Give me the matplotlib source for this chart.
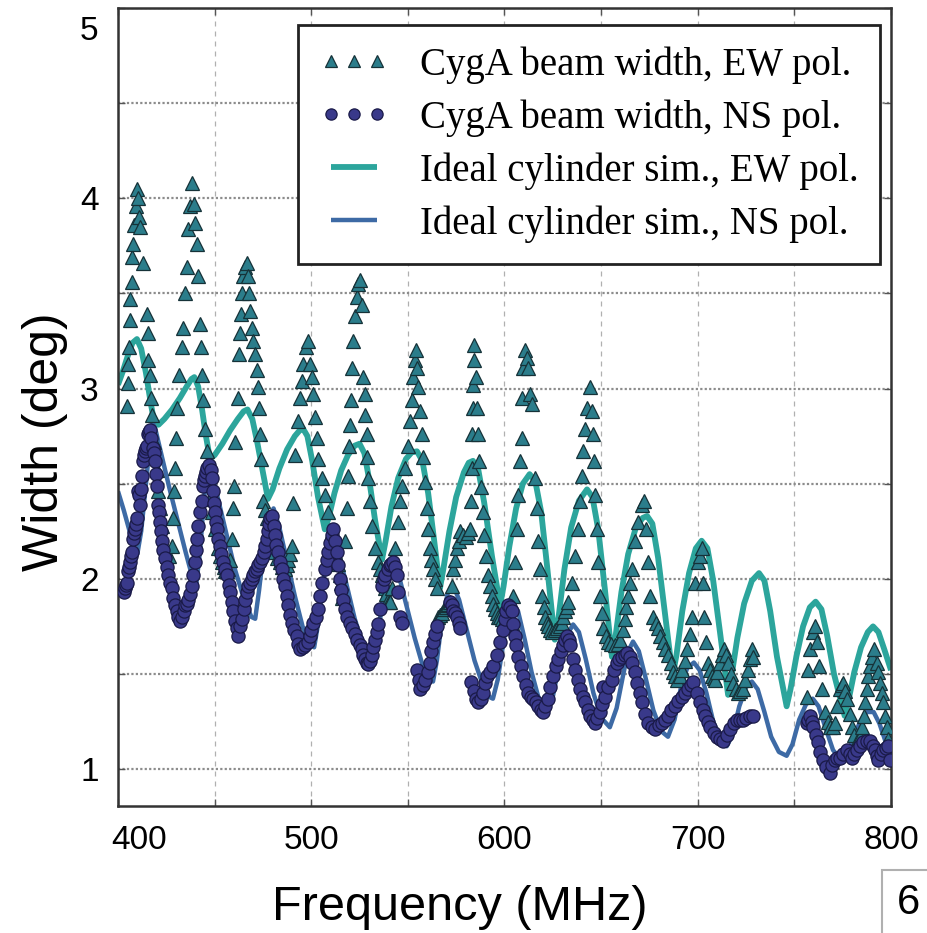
import numpy as np
import matplotlib
matplotlib.use("Agg")
import matplotlib.pyplot as plt
import matplotlib.transforms as mtransforms
from matplotlib.patches import Rectangle

plt.rcParams['font.family'] = ['Liberation Sans', 'DejaVu Sans']

# --- measured beam width, EW pol. (MHz, deg) ---
ew_points = [
    (404.7, 2.91), (405.2, 3.03), (405.4, 3.13), (405.6, 3.22), (406.2, 3.36), (406.4, 3.47),
    (407.2, 3.56), (407.4, 3.69), (407.8, 3.76), (408.3, 3.86), (409.3, 3.96), (409.8, 4.05),
    (410.4, 4.00), (410.9, 3.90), (411.4, 3.85), (412.9, 3.66), (415.0, 3.39), (415.5, 3.29),
    (415.7, 3.15), (416.6, 3.07), (417.1, 2.95), (417.6, 2.86), (418.6, 2.72), (420.2, 2.57),
    (420.7, 2.46), (421.7, 2.37), (422.8, 2.28), (423.8, 2.17), (424.8, 2.13), (425.6, 2.12),
    (426.5, 2.12), (427.9, 2.17), (428.5, 2.32), (429.0, 2.46), (429.5, 2.58), (430.0, 2.74),
    (430.5, 2.90), (431.6, 3.07), (433.1, 3.22), (433.6, 3.32), (434.7, 3.50), (435.7, 3.64),
    (436.2, 3.84), (437.3, 3.96), (438.3, 4.08), (439.3, 3.97), (439.8, 3.87), (440.9, 3.76),
    (441.4, 3.59), (442.4, 3.34), (443.0, 3.22), (443.5, 3.07), (444.0, 2.94), (445.0, 2.79),
    (446.1, 2.67), (447.6, 2.42), (448.6, 2.35), (450.2, 2.26), (451.8, 2.16), (452.8, 2.12),
    (453.8, 2.09), (454.6, 2.06), (455.4, 2.04), (456.2, 2.04), (457.0, 2.05), (458.0, 2.10),
    (459.0, 2.21), (459.5, 2.37), (459.8, 2.49), (460.5, 2.72), (462.1, 2.95), (462.6, 3.18),
    (463.1, 3.29), (463.7, 3.39), (464.2, 3.50), (464.7, 3.59), (465.7, 3.64), (466.5, 3.66),
    (467.3, 3.59), (467.8, 3.50), (468.3, 3.41), (469.3, 3.32), (469.9, 3.25), (470.9, 3.18),
    (471.9, 3.10), (472.5, 3.01), (473.0, 2.90), (473.5, 2.76), (473.8, 2.63), (475.0, 2.41),
    (476.1, 2.36), (477.1, 2.32), (478.7, 2.23), (479.9, 2.19), (481.2, 2.14), (482.5, 2.11),
    (483.8, 2.09), (485.1, 2.06), (486.4, 2.05), (487.2, 2.07), (488.0, 2.10), (489.0, 2.13),
    (490.0, 2.17), (490.8, 2.40), (491.6, 2.65), (493.2, 2.83), (494.2, 2.95), (495.2, 3.04),
    (495.7, 3.13), (497.3, 3.22), (498.3, 3.25), (499.4, 3.13), (500.4, 3.06), (500.9, 2.97),
    (501.9, 2.85), (503.0, 2.74), (503.5, 2.63), (505.6, 2.53), (507.1, 2.44), (508.7, 2.35),
    (510.7, 2.25), (512.3, 2.14), (513.6, 2.08), (514.9, 2.02), (515.5, 1.98), (516.0, 1.90),
    (517.5, 2.20), (518.5, 2.37), (519.0, 2.54), (519.6, 2.70), (520.1, 2.81), (520.6, 2.94),
    (521.1, 3.11), (521.6, 3.25), (522.6, 3.38), (523.7, 3.48), (524.2, 3.55), (525.2, 3.57),
    (526.3, 3.44), (526.8, 3.06), (527.8, 2.97), (528.0, 2.86), (528.9, 2.76), (529.1, 2.64),
    (529.4, 2.53), (530.4, 2.41), (531.4, 2.28), (533.0, 2.16), (534.6, 2.09), (535.6, 2.05),
    (536.6, 2.02), (537.4, 1.98), (538.2, 1.95), (538.9, 1.92), (539.7, 1.89), (540.3, 1.88),
    (541.0, 1.88), (542.0, 1.95), (543.3, 2.16), (544.9, 2.30), (545.9, 2.41), (547.0, 2.49),
    (548.5, 2.58), (550.1, 2.70), (551.1, 2.83), (552.1, 2.94), (552.7, 3.06), (553.7, 3.15),
    (554.2, 3.20), (554.7, 3.11), (555.3, 3.01), (556.3, 2.88), (557.3, 2.76), (557.8, 2.64),
    (558.9, 2.51), (559.9, 2.37), (560.4, 2.26), (561.5, 2.16), (562.2, 2.10), (563.0, 2.05),
    (564.0, 2.00), (565.1, 1.95), (565.6, 1.80), (566.5, 1.81), (567.5, 1.82), (568.7, 1.84),
    (569.5, 1.85), (570.3, 1.86), (571.0, 1.87), (571.8, 1.88), (572.6, 1.96), (573.4, 2.05),
    (574.4, 2.10), (575.4, 2.16), (576.2, 2.20), (577.0, 2.25), (578.5, 2.23), (580.0, 2.22),
    (581.2, 2.24), (582.2, 2.26), (582.7, 2.41), (583.0, 2.58), (583.2, 2.76), (583.5, 2.90),
    (583.8, 3.02), (584.1, 3.15), (584.4, 3.23), (585.3, 3.06), (585.8, 2.90), (586.3, 2.76),
    (586.8, 2.62), (587.9, 2.48), (588.9, 2.35), (589.4, 2.23), (590.4, 2.12), (591.5, 2.02),
    (592.5, 1.96), (593.5, 1.91), (594.3, 1.87), (595.1, 1.84), (595.9, 1.82), (596.7, 1.80),
    (597.7, 1.80), (598.7, 1.79), (599.5, 1.78), (600.3, 1.77), (601.2, 1.77), (602.0, 1.76),
    (602.9, 1.76), (603.9, 1.77), (604.4, 1.91), (605.4, 2.09), (606.5, 2.26), (607.0, 2.44),
    (608.0, 2.62), (609.1, 2.74), (609.3, 2.95), (609.6, 3.11), (610.6, 3.20), (611.7, 3.16),
    (612.2, 3.11), (613.2, 2.97), (614.2, 2.92), (615.8, 2.53), (616.8, 2.37), (617.4, 2.20),
    (618.4, 2.05), (619.4, 1.91), (620.2, 1.85), (621.0, 1.80), (621.8, 1.77), (622.5, 1.75),
    (623.5, 1.73), (624.6, 1.72), (625.9, 1.73), (627.2, 1.74), (628.5, 1.75), (629.8, 1.77),
    (630.5, 1.80), (631.3, 1.83), (632.1, 1.85), (632.9, 1.88), (634.9, 1.98), (636.5, 2.12),
    (638.1, 2.26), (639.1, 2.41), (640.1, 2.54), (640.6, 2.67), (641.7, 2.79), (642.7, 2.90),
    (644.3, 3.01), (645.3, 2.88), (645.8, 2.76), (646.3, 2.62), (646.8, 2.44), (647.9, 2.26),
    (648.4, 2.09), (649.4, 1.91), (650.2, 1.82), (651.0, 1.74), (652.3, 1.70), (653.6, 1.67),
    (655.0, 1.66), (657.2, 1.65), (658.5, 1.66), (659.8, 1.68), (661.1, 1.73), (662.4, 1.79),
    (663.1, 1.85), (663.9, 1.91), (665.0, 1.98), (666.0, 2.05), (667.5, 2.20), (669.1, 2.30),
    (671.2, 2.39), (672.2, 2.41), (673.2, 2.26), (674.3, 2.09), (675.3, 1.91), (676.9, 1.80),
    (678.2, 1.77), (679.5, 1.74), (680.7, 1.70), (682.0, 1.67), (683.3, 1.63), (684.6, 1.60),
    (685.9, 1.56), (687.2, 1.51), (688.2, 1.49), (689.3, 1.47), (690.6, 1.49), (691.9, 1.52),
    (693.2, 1.57), (694.5, 1.63), (695.8, 1.71), (697.1, 1.80), (698.6, 1.98), (700.2, 2.09),
    (701.2, 2.12), (702.2, 2.16), (702.7, 1.98), (703.3, 1.80), (704.3, 1.67), (705.3, 1.56),
    (706.4, 1.52), (707.4, 1.49), (708.2, 1.48), (709.0, 1.47), (710.2, 1.51), (711.5, 1.56),
    (712.5, 1.60), (713.6, 1.63), (714.6, 1.60), (715.7, 1.56), (717.0, 1.50), (718.3, 1.45),
    (719.6, 1.42), (720.9, 1.40), (722.1, 1.41), (723.4, 1.42), (724.7, 1.47), (726.0, 1.52),
    (727.1, 1.58), (728.1, 1.63), (728.6, 1.59),
    (756.6, 1.38), (757.1, 1.52), (758.1, 1.63), (759.7, 1.72), (760.7, 1.75), (761.7, 1.67),
    (762.8, 1.54), (764.3, 1.42), (765.9, 1.30), (767.2, 1.25), (768.5, 1.22), (769.8, 1.22),
    (771.0, 1.24), (772.3, 1.33), (773.6, 1.42), (774.4, 1.44), (775.2, 1.45), (776.3, 1.41),
    (777.3, 1.37), (778.6, 1.29), (779.9, 1.22), (781.1, 1.18), (782.4, 1.15), (783.7, 1.17),
    (785.0, 1.22), (785.8, 1.28), (786.6, 1.35), (787.4, 1.42), (788.1, 1.49), (789.2, 1.54),
    (790.2, 1.59), (791.2, 1.63), (792.8, 1.56), (793.5, 1.51), (794.3, 1.45), (795.1, 1.40),
    (795.9, 1.35), (797.1, 1.28), (797.9, 1.22), (798.7, 1.16), (799.5, 1.10),
]

# --- measured beam width, NS pol. ---
ns_points = [
    (403.0, 1.93), (403.6, 1.95), (404.2, 1.97), (404.7, 1.98), (405.2, 2.04), (405.7, 2.06),
    (406.2, 2.09), (406.7, 2.12), (407.2, 2.14), (407.8, 2.21), (408.3, 2.24), (408.8, 2.26),
    (409.3, 2.29), (409.8, 2.32), (410.4, 2.46), (410.9, 2.44), (411.4, 2.39), (411.9, 2.47),
    (412.4, 2.54), (412.9, 2.62), (413.5, 2.65), (414.0, 2.67), (414.5, 2.69), (415.0, 2.70),
    (415.5, 2.76), (416.0, 2.77), (416.6, 2.78), (417.3, 2.74), (418.1, 2.69), (418.6, 2.66),
    (419.1, 2.62), (419.6, 2.55), (420.2, 2.49), (420.7, 2.39), (421.2, 2.35), (421.7, 2.30),
    (422.2, 2.25), (422.8, 2.20), (423.5, 2.15), (424.3, 2.11), (425.1, 2.06), (425.9, 2.02),
    (426.9, 1.98), (427.9, 1.95), (428.7, 1.90), (429.5, 1.86), (430.3, 1.83), (431.1, 1.80),
    (432.1, 1.78), (433.1, 1.80), (433.9, 1.83), (434.7, 1.86), (435.5, 1.87), (436.2, 1.89),
    (437.2, 1.92), (438.3, 1.96), (439.0, 2.02), (439.8, 2.09), (440.4, 2.15), (440.9, 2.21),
    (441.4, 2.28), (442.4, 2.35), (443.5, 2.41), (444.0, 2.49), (444.5, 2.52), (445.0, 2.54),
    (445.6, 2.56), (446.1, 2.58), (447.1, 2.60), (447.9, 2.57), (448.6, 2.53), (449.2, 2.46),
    (449.7, 2.40), (450.2, 2.35), (450.7, 2.30), (451.2, 2.26), (452.0, 2.21), (452.8, 2.17),
    (453.5, 2.13), (454.3, 2.09), (455.3, 2.05), (456.4, 2.02), (457.2, 1.97), (458.0, 1.93),
    (458.8, 1.88), (459.5, 1.83), (460.5, 1.78), (461.6, 1.74), (462.1, 1.70), (463.2, 1.75),
    (464.2, 1.79), (465.0, 1.84), (465.7, 1.89), (466.5, 1.93), (467.3, 1.96), (468.3, 1.98),
    (469.3, 2.00), (470.1, 2.02), (470.9, 2.04), (471.7, 2.05), (472.5, 2.07), (473.5, 2.09),
    (474.5, 2.11), (475.3, 2.14), (476.1, 2.17), (476.9, 2.21), (477.6, 2.25), (478.2, 2.29),
    (478.7, 2.32), (479.7, 2.33), (480.5, 2.28), (481.2, 2.23), (482.0, 2.18), (482.8, 2.14),
    (483.8, 2.09), (484.9, 2.05), (485.6, 2.00), (486.4, 1.96), (487.2, 1.91), (488.0, 1.86),
    (489.0, 1.81), (490.0, 1.77), (491.3, 1.73), (492.6, 1.70), (493.4, 1.66), (494.2, 1.63),
    (495.5, 1.64), (496.8, 1.65), (498.1, 1.67), (499.4, 1.70), (500.1, 1.73), (500.9, 1.77),
    (502.2, 1.80), (503.5, 1.84), (504.5, 1.91), (505.8, 1.98), (507.1, 2.05), (507.9, 2.10),
    (508.7, 2.14), (509.7, 2.19), (510.7, 2.23), (511.3, 2.26), (512.3, 2.20), (513.3, 2.14),
    (514.1, 2.07), (514.9, 2.00), (515.6, 1.94), (516.4, 1.89), (517.5, 1.84), (518.5, 1.80),
    (519.8, 1.77), (521.1, 1.74), (522.4, 1.71), (523.7, 1.68), (525.0, 1.65), (526.3, 1.63),
    (527.0, 1.60), (527.8, 1.58), (528.6, 1.56), (529.4, 1.55), (530.4, 1.57), (531.4, 1.60),
    (532.2, 1.64), (533.0, 1.68), (533.8, 1.72), (534.6, 1.76), (535.6, 1.84), (536.6, 1.96),
    (537.4, 2.00), (538.2, 2.02), (539.5, 2.05), (540.8, 2.07), (541.5, 2.08), (542.3, 2.09),
    (543.3, 2.06), (544.4, 2.02), (544.9, 1.93), (545.9, 1.80), (547.0, 1.77),
    (554.7, 1.52), (555.5, 1.47), (556.3, 1.42), (557.6, 1.44), (558.9, 1.47), (560.2, 1.51),
    (561.5, 1.56), (562.2, 1.62), (563.0, 1.67), (564.0, 1.71), (565.1, 1.75),
    (571.8, 1.88), (572.6, 1.86), (573.4, 1.83), (574.4, 1.82), (575.4, 1.80), (576.2, 1.77),
    (577.0, 1.74),
    (582.7, 1.46), (584.0, 1.41), (585.3, 1.37), (586.3, 1.35), (587.6, 1.37), (588.9, 1.40),
    (590.0, 1.45), (591.0, 1.49), (592.5, 1.51), (594.1, 1.54), (595.9, 1.60), (597.7, 1.67),
    (599.0, 1.73), (600.3, 1.79), (601.0, 1.83), (601.8, 1.86), (602.9, 1.85), (603.9, 1.83),
    (604.6, 1.76), (605.4, 1.70), (606.2, 1.65), (607.0, 1.59), (608.3, 1.54), (609.6, 1.49),
    (610.9, 1.44), (612.2, 1.40), (613.5, 1.38), (614.8, 1.37), (616.1, 1.35), (617.4, 1.33),
    (618.7, 1.31), (619.9, 1.30), (621.2, 1.33), (622.5, 1.37), (623.8, 1.43), (625.1, 1.49),
    (626.4, 1.54), (627.7, 1.58), (629.0, 1.62), (630.3, 1.65), (631.4, 1.68), (632.4, 1.70),
    (633.2, 1.68), (633.9, 1.65), (635.2, 1.58), (636.5, 1.52), (637.8, 1.47), (639.1, 1.42),
    (640.4, 1.38), (641.7, 1.35), (643.0, 1.31), (644.3, 1.28), (645.6, 1.26), (646.8, 1.24),
    (648.1, 1.27), (649.4, 1.30), (650.7, 1.34), (651.0, 1.43), (652.0, 1.38), (653.8, 1.43),
    (655.6, 1.47), (656.9, 1.52), (658.2, 1.56), (659.5, 1.58), (660.8, 1.59), (662.1, 1.60),
    (663.4, 1.61), (664.7, 1.59), (666.0, 1.56), (667.3, 1.51), (668.6, 1.45), (669.9, 1.40),
    (671.2, 1.35), (672.8, 1.29), (674.3, 1.24), (676.1, 1.22), (677.9, 1.21), (679.7, 1.23),
    (681.5, 1.24), (683.0, 1.26), (684.6, 1.28), (686.4, 1.31), (688.2, 1.33), (690.0, 1.36),
    (691.9, 1.38), (693.4, 1.40), (695.0, 1.42), (696.3, 1.44), (697.6, 1.46), (699.4, 1.40),
    (701.2, 1.35), (702.5, 1.31), (703.8, 1.28), (705.1, 1.25), (706.4, 1.22), (708.2, 1.19),
    (710.0, 1.17), (711.5, 1.16), (713.1, 1.15), (714.9, 1.18), (716.7, 1.21), (718.5, 1.24),
    (720.3, 1.26), (721.8, 1.26), (723.4, 1.26), (725.2, 1.27), (727.1, 1.28), (728.6, 1.28),
    (756.6, 1.24), (757.3, 1.26), (758.1, 1.28), (758.9, 1.25), (759.7, 1.22), (761.0, 1.18),
    (762.3, 1.14), (763.5, 1.09), (764.8, 1.05), (766.6, 1.01), (768.5, 0.98), (769.7, 1.02),
    (771.0, 1.05), (772.3, 1.06), (773.6, 1.06), (775.4, 1.08), (777.3, 1.10), (778.6, 1.08),
    (779.9, 1.06), (781.1, 1.08), (782.4, 1.10), (784.0, 1.12), (785.5, 1.14), (787.4, 1.15),
    (789.2, 1.15), (790.5, 1.12), (791.7, 1.10), (792.5, 1.07), (793.3, 1.05), (794.6, 1.08),
    (795.9, 1.10), (797.2, 1.11), (798.5, 1.12), (799.5, 1.05),
]

# --- ideal cylinder simulation, EW pol. ---
sim_ew_freq = [400, 402.5, 405, 407.5, 409.8, 412, 414.5, 417, 419,
               421, 424, 428, 432, 435.5, 438, 439.5, 441.5, 443.5, 445.5, 447.6,
               450, 454, 458, 462, 465, 467, 469.5, 472, 475, 477.6,
               480, 483.5, 487.5, 491.5, 494, 495.7, 498, 500.5, 503.5, 507,
               509, 512, 515.5, 519, 522.5, 525, 527.5, 530, 533, 536.6,
               538.5, 541.5, 545, 549, 552, 554.7, 557.5, 560.5, 563.5, 566.6,
               568.5, 571.5, 575, 579, 581.5, 583.7, 586.5, 589.5, 593.5, 597.7,
               599.5, 602.5, 606, 609.5, 613, 616, 619, 622, 626,
               628, 631, 634.5, 638.5, 642.7, 645.5, 648.5, 652, 655.6,
               657.5, 660.5, 664, 668, 671.5, 673.8, 676.5, 679.5, 683, 687,
               689, 692, 695.5, 699, 702, 705, 708, 711.5, 715.7,
               717.5, 720.5, 724, 728, 731.7, 734.5, 737.5, 741, 746,
               748, 751, 754.5, 758, 761, 764, 767, 770.5, 776,
               778, 781, 784.5, 788, 790.7, 793.5, 796.5, 800]
sim_ew_width = [3.02, 3.09, 3.17, 3.24, 3.26, 3.21, 3.08, 2.92, 2.81,
                2.81, 2.84, 2.89, 2.95, 3.01, 3.05, 3.06, 3.01, 2.89, 2.75, 2.63,
                2.65, 2.71, 2.78, 2.84, 2.88, 2.89, 2.84, 2.72, 2.56, 2.42,
                2.47, 2.58, 2.68, 2.75, 2.78, 2.79, 2.75, 2.62, 2.43, 2.26,
                2.32, 2.45, 2.57, 2.65, 2.70, 2.71, 2.66, 2.52, 2.31, 2.10,
                2.20, 2.38, 2.53, 2.63, 2.665, 2.67, 2.62, 2.45, 2.21, 1.95,
                2.06, 2.25, 2.43, 2.56, 2.61, 2.62, 2.57, 2.40, 2.12, 1.86,
                1.96, 2.17, 2.37, 2.50, 2.55, 2.51, 2.35, 2.07, 1.68,
                1.80, 2.05, 2.27, 2.41, 2.47, 2.43, 2.26, 1.94, 1.59,
                1.70, 1.93, 2.13, 2.27, 2.32, 2.33, 2.29, 2.11, 1.82, 1.49,
                1.60, 1.83, 2.03, 2.16, 2.20, 2.16, 1.99, 1.72, 1.39,
                1.49, 1.69, 1.87, 1.99, 2.03, 1.99, 1.83, 1.59, 1.33,
                1.42, 1.59, 1.75, 1.85, 1.88, 1.84, 1.70, 1.50, 1.28,
                1.36, 1.51, 1.64, 1.72, 1.75, 1.72, 1.63, 1.52]

# --- ideal cylinder simulation, NS pol. ---
sim_ns_freq = [400, 403, 406, 408.5, 410, 412, 414.5, 416.5, 418, 419.5, 423, 427, 431, 435,
               439, 440.5, 442.5, 444.5, 446.6, 448.5, 452, 456, 460.5, 465, 469, 471,
               473, 475.5, 478, 480.5, 483.5, 487.5, 491.5, 495.5, 499.5, 501.5,
               503.5, 506, 508.5, 511, 514.5, 518.5, 522.5, 526.5, 530, 532,
               534, 536.5, 539.5, 542.3, 545.5, 549.5, 553.5, 557.5, 561, 563,
               565, 567.5, 570.5, 573.2, 576.5, 580.5, 584.5, 588.5, 592, 594,
               596.5, 599.5, 602, 604.5, 607, 610.5, 614, 618, 622,
               625, 628.5, 632, 635.5, 638.5, 642, 646, 650, 654.5,
               658, 661.5, 664, 666.5, 669.5, 673, 677, 681, 684.6,
               688, 691.5, 694.5, 698, 701, 704.5, 708, 712, 715,
               718, 721.5, 725, 728, 731, 734.5, 738, 742, 746,
               749, 752.5, 756, 759.5, 762.5, 766, 770, 774,
               777, 780.5, 784, 787.5, 791, 794, 797, 800]
sim_ns_width = [2.46, 2.36, 2.25, 2.16, 2.13, 2.25, 2.50, 2.72, 2.82, 2.78, 2.63, 2.46, 2.30, 2.14,
                1.99, 1.97, 2.15, 2.42, 2.61, 2.56, 2.41, 2.24, 2.05, 1.90, 1.80, 1.79,
                1.94, 2.16, 2.32, 2.37, 2.27, 2.09, 1.91, 1.75, 1.66, 1.64,
                1.76, 1.97, 2.13, 2.21, 2.12, 1.96, 1.79, 1.66, 1.58, 1.56,
                1.66, 1.86, 2.03, 2.09, 2.01, 1.85, 1.69, 1.55, 1.47, 1.46,
                1.57, 1.77, 1.92, 1.97, 1.89, 1.73, 1.57, 1.45, 1.38, 1.37,
                1.47, 1.67, 1.81, 1.87, 1.83, 1.68, 1.51, 1.36, 1.30,
                1.38, 1.56, 1.70, 1.76, 1.72, 1.58, 1.40, 1.27, 1.22,
                1.32, 1.50, 1.62, 1.67, 1.62, 1.48, 1.31, 1.20, 1.17,
                1.26, 1.44, 1.53, 1.56, 1.52, 1.40, 1.25, 1.15, 1.12,
                1.18, 1.33, 1.43, 1.46, 1.42, 1.30, 1.17, 1.09, 1.07,
                1.13, 1.26, 1.34, 1.37, 1.33, 1.22, 1.10, 1.05,
                1.07, 1.16, 1.25, 1.30, 1.30, 1.24, 1.15, 1.08]

legend_labels = ["CygA beam width, EW pol.", "CygA beam width, NS pol.",
                 "Ideal cylinder sim., EW pol.", "Ideal cylinder sim., NS pol."]

ew_freq, ew_width = zip(*ew_points)
ns_freq, ns_width = zip(*ns_points)

W, H = 928, 933
fig = plt.figure(figsize=(W / 100, H / 100), dpi=100)
ax = fig.add_axes([118 / W, (H - 806) / H, 773 / W, 798 / H])

# sim lines sit under the measured markers
l_ew, = ax.plot(sim_ew_freq, sim_ew_width, color='#2ca59c', lw=4.2, zorder=2,
                solid_joinstyle='round', solid_capstyle='butt')
l_ns, = ax.plot(sim_ns_freq, sim_ns_width, color='#3d6aa5', lw=3.2, zorder=2,
                solid_joinstyle='round', solid_capstyle='butt')
m_ew, = ax.plot(ew_freq, ew_width, ls='none', marker='^', ms=9.5, mfc='#2b7d8b',
                mec='#163238', mew=0.9, zorder=3)
m_ns, = ax.plot(ns_freq, ns_width, ls='none', marker='o', ms=9.5, mfc='#39398a',
                mec='#1a1a48', mew=0.9, zorder=3)

ax.set_xlim(400, 800)
ax.set_ylim(0.806, 5.0)

xt = np.arange(400, 801, 50)
ax.set_xticks(xt)
ax.set_xticklabels([str(v) if v % 100 == 0 else '' for v in xt])
yt = np.arange(1.0, 5.01, 0.5)
ax.set_yticks(yt)
ax.set_yticklabels([str(int(v)) if v % 1 == 0 else '' for v in yt])
ax.tick_params(direction='in', length=5, width=1, color='#555555',
               top=True, right=True, labelsize=24)
ax.tick_params(axis='x', pad=14)
ax.tick_params(axis='y', pad=14)

ax.grid(axis='y', ls=(0, (1, 1)), lw=1.6, color='#8c8c8c', zorder=0)
ax.grid(axis='x', ls=(0, (4, 4)), lw=0.9, color='#b0b0b0', zorder=0)
ax.set_axisbelow(True)

for sp in ax.spines.values():
    sp.set_color('#333333')
    sp.set_linewidth(1.8)

ax.set_xlabel("Frequency (MHz)", fontsize=35)
ax.xaxis.set_label_coords((460 - 118) / 773, (806 - 908) / 798)
ax.xaxis.label.set_va('center')
ax.set_ylabel("Width (deg)", fontsize=36)
ax.yaxis.set_label_coords((45 - 118) / 773, (806 - 442) / 798)
ax.yaxis.label.set_va('center')

leg = ax.legend([m_ew, m_ns, l_ew, l_ns], legend_labels, loc='upper right',
                bbox_to_anchor=(0.986, 0.979), borderaxespad=0, numpoints=3,
                markerscale=0.85,
                prop={'family': 'Liberation Serif', 'size': 28},
                handlelength=1.8, handletextpad=0.8, labelspacing=0.4,
                borderpad=0.55, fancybox=False, framealpha=1)
leg.get_frame().set_edgecolor('#222222')
leg.get_frame().set_linewidth(2)

# end labels nudged inward, as in the original
fig.canvas.draw()
ax.get_xticklabels()[0].set_transform(
    ax.get_xticklabels()[0].get_transform()
    + mtransforms.ScaledTranslation(0.21, 0, fig.dpi_scale_trans))
ax.get_yticklabels()[-1].set_transform(
    ax.get_yticklabels()[-1].get_transform()
    + mtransforms.ScaledTranslation(0, -0.2, fig.dpi_scale_trans))

# page-number box at the bottom right
fig.patches.append(Rectangle((882 / W, -0.05), 0.1, (H - 870) / H + 0.05,
                             transform=fig.transFigure, fill=False,
                             ec='#b0b0b0', lw=1.5))
fig.text(897 / W, (H - 903) / H, "6", fontsize=30, va='center', ha='left')

fig.savefig("out.png", dpi=100)
